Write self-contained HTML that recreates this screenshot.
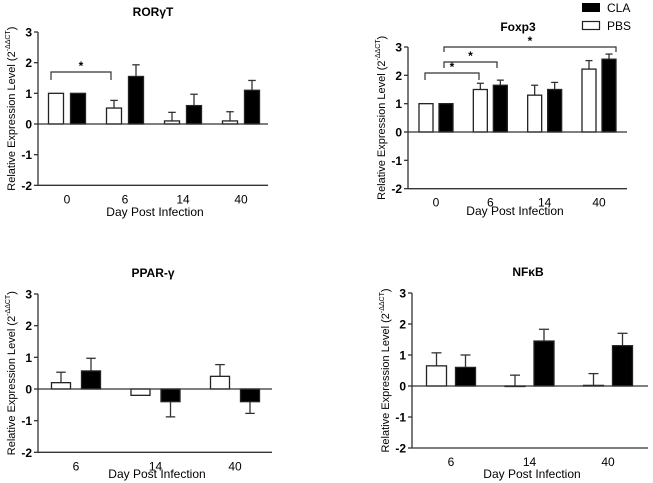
<!DOCTYPE html>
<html><head><meta charset="utf-8"><style>
html,body{margin:0;padding:0;background:#fff;}
svg{display:block;font-family:"Liberation Sans",Arial,sans-serif;}
</style></head><body>
<svg id="c" width="653" height="483" viewBox="0 0 653 483"></svg>
<script>
// RORγT
const rorCats=["0","6","14","40"];
const rorPBS=[1,0.52,0.1,0.1];
const rorPBSErr=[0,0.25,0.28,0.3];
const rorCLA=[1,1.55,0.6,1.1];
const rorCLAErr=[0,0.38,0.37,0.32];
// Foxp3
const foxCats=["0","6","14","40"];
const foxPBS=[1,1.5,1.3,2.22];
const foxPBSErr=[0,0.22,0.35,0.3];
const foxCLA=[1,1.65,1.5,2.57];
const foxCLAErr=[0,0.18,0.25,0.18];
// PPAR-γ
const pparCats=["6","14","40"];
const pparPBS=[0.2,-0.2,0.4];
const pparPBSErr=[0.33,0,0.37];
const pparCLA=[0.57,-0.4,-0.4];
const pparCLAErr=[0.4,0.48,0.37];
// NFκB
const nfCats=["6","14","40"];
const nfPBS=[0.65,0,0.02];
const nfPBSErr=[0.42,0.35,0.38];
const nfCLA=[0.6,1.45,1.3];
const nfCLAErr=[0.4,0.38,0.4];
const yTicks=[3,2,1,0,-1,-2];

const NS="http://www.w3.org/2000/svg";
const svg=document.getElementById('c');
function mk(tag,attrs,parent){const e=document.createElementNS(NS,tag);for(const k in attrs)e.setAttribute(k,attrs[k]);(parent||svg).appendChild(e);return e;}

function panel(p){
  const g=mk('g',{});
  
  
  const y=v=>p.y0-(v)*(p.y0-p.y3)/3;
  const xc=i=>p.cx[0]+i*(p.cx[p.cx.length-1]-p.cx[0])/(p.cx.length-1);
  const t=mk('text',{x:p.tx,y:p.ty,'font-size':12,'font-weight':'bold','text-anchor':'middle'},g);
  t.textContent=p.title;
  
  
  const ya=mk('line',{x1:p.ax,y1:y(3),x2:p.ax,y2:y(-2),stroke:'#333','stroke-width':1.3},g);
  
  
  yTicks.forEach(v=>{
    mk('line',{x1:p.ax-4,y1:y(v),x2:p.ax,y2:y(v),stroke:'#333','stroke-width':1.3},g);
    const tl=mk('text',{x:p.ax-6,y:y(v)+4.5,'font-size':12,'font-weight':'bold','text-anchor':'end'},g);
    tl.textContent=v;
    
    
  });
  mk('line',{x1:p.ax,y1:y(-2),x2:p.xend,y2:y(-2),stroke:'#333','stroke-width':1.3},g);
  const yt=mk('text',{transform:`translate(${p.ax-23},${(y(3)+y(-2))/2}) rotate(-90)`,'font-size':11,'text-anchor':'middle'},g);
  yt.innerHTML='Relative Expression Level (2<tspan font-size="7" dy="-5">-ΔΔCT</tspan><tspan dy="5">)</tspan>';
  
  
  p.cats.forEach((c,i)=>{
    const cx=xc(i);
    [[p.pbs,p.pbsE,'#fff','pbs'],[p.cla,p.claE,'#000','cla']].forEach(([vals,errs,fill,nm],j)=>{
      const v=vals[i],e=errs[i];
      const x0=j===0?cx-p.gap/2-p.bw:cx+p.gap/2;
      const top=Math.min(y(v),y(0)),h=Math.max(Math.abs(y(v)-y(0)),0.5);
      const bx=x0+p.bw/2;
      const ey=v>=0?y(v+e):y(v-e);
      if(e>0){
        mk('line',{x1:bx,y1:y(v),x2:bx,y2:ey,stroke:'#333','stroke-width':1.3},g);
        mk('line',{x1:bx-p.bw*0.25,y1:ey,x2:bx+p.bw*0.25,y2:ey,stroke:'#333','stroke-width':1.3},g);
      }
      const r=mk('rect',{x:x0,y:top,width:p.bw,height:h,fill:fill,stroke:'#222','stroke-width':1.3},g);
      
      
    });
    const xl=mk('text',{x:cx,y:y(-2)+18,'font-size':12,'text-anchor':'middle'},g);
    xl.textContent=c;
    
    
  });
  mk('line',{x1:p.ax,y1:y(0),x2:p.xend,y2:y(0),stroke:'#333','stroke-width':1.3},g);
  const xt=mk('text',{x:p.xlx,y:p.xly,'font-size':12,'text-anchor':'middle'},g);
  xt.textContent=p.xlabel;
  
  
  (p.brackets||[]).forEach(b=>{
    mk('path',{d:`M${b[0]},${b[3]} V${b[2]} H${b[1]} V${b[3]}`,fill:'none',stroke:'#333','stroke-width':1.2},g);
    const s=mk('text',{x:(b[0]+b[1])/2,y:b[2]-2,'font-size':12,'font-weight':'bold','text-anchor':'middle'},g);
    s.textContent='*';
    
    
  });
}

panel({name:'rorgt-panel',title:'RORγT',tx:153,ty:16,ax:38,xend:268,y3:32,y0:124,cx:[67,124,181,241],bw:15,gap:7,
  cats:rorCats,pbs:rorPBS,pbsE:rorPBSErr,cla:rorCLA,claE:rorCLAErr,xlabel:'Day Post Infection',xlx:155,xly:216,
  brackets:[[51,111,72,80]]});
panel({name:'foxp3-panel',title:'Foxp3',tx:518,ty:31,ax:408,xend:627,y3:47,y0:132,cx:[436,490,543,599],bw:14,gap:6,
  cats:foxCats,pbs:foxPBS,pbsE:foxPBSErr,cla:foxCLA,claE:foxCLAErr,xlabel:'Day Post  Infection',xlx:515,xly:215,
  brackets:[[425,479,73,80],[444,497,62,68],[444,616,47,52]]});
panel({name:'ppar-gamma-panel',title:'PPAR-γ',tx:153,ty:277,ax:38,xend:272,y3:294,y0:389,cx:[76,155,235],bw:19,gap:11,
  cats:pparCats,pbs:pparPBS,pbsE:pparPBSErr,cla:pparCLA,claE:pparCLAErr,xlabel:'Day Post  Infection',xlx:157,xly:478,brackets:[]});
panel({name:'nfkb-panel',title:'NFκB',tx:528,ty:276,ax:412,xend:648,y3:293,y0:386,cx:[451,529,608],bw:20,gap:9,
  cats:nfCats,pbs:nfPBS,pbsE:nfPBSErr,cla:nfCLA,claE:nfCLAErr,xlabel:'Day Post  Infection',xlx:532,xly:478,brackets:[]});

const lg=mk('g',{});


const l1=mk('rect',{x:582,y:3,width:18,height:9,fill:'#000'},lg);


const t1=mk('text',{x:607,y:12,'font-size':12},lg);t1.textContent='CLA';


const l2=mk('rect',{x:582.5,y:21.5,width:17,height:8,fill:'#fff',stroke:'#222','stroke-width':1.2},lg);


const t2=mk('text',{x:607,y:30,'font-size':12},lg);t2.textContent='PBS';


</script>
</body></html>
